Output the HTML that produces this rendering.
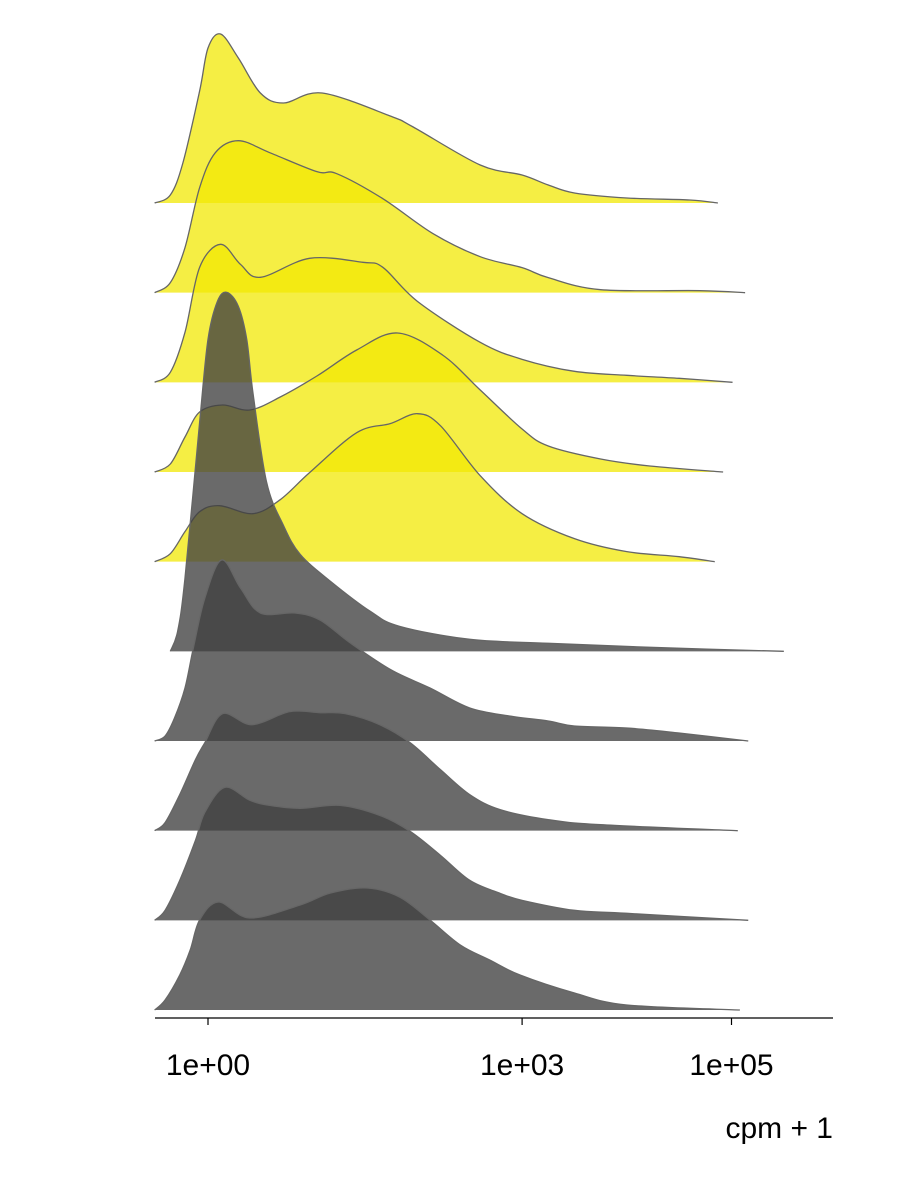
<!DOCTYPE html>
<html><head><meta charset="utf-8">
<style>
html,body{margin:0;padding:0;background:#fff;}
svg{display:block;font-family:"Liberation Sans",Arial,sans-serif;}
</style></head>
<body>
<svg id="chart" width="900" height="1188" viewBox="0 0 900 1188" xmlns="http://www.w3.org/2000/svg">
<g id="ridges"></g>
<g id="axis"></g>
<text x="833" y="1138" font-size="30" text-anchor="end" fill="#000">cpm + 1</text>
</svg>
<script>
// x positions are log10(cpm+1); heights are density values
const tickValues = [0, 3, 5];
const tickLabels = ["1e+00", "1e+03", "1e+05"];
const groups = ["yellow","yellow","yellow","yellow","yellow","gray","gray","gray","gray","gray"];
const r1x = [-0.51,-0.36,-0.24,-0.08,0,0.12,0.29,0.50,0.72,1.09,1.74,1.96,2.6,3.0,3.25,3.5,4.0,4.6,4.87];
const r1y = [0,0.08,0.40,1.12,1.55,1.69,1.45,1.10,1.00,1.10,0.87,0.76,0.38,0.28,0.18,0.10,0.05,0.03,0];
const r2x = [-0.51,-0.36,-0.22,-0.08,0.07,0.29,0.59,1.04,1.23,1.67,2.15,2.6,3.0,3.25,3.75,4.7,5.13];
const r2y = [0,0.10,0.45,1.05,1.40,1.52,1.40,1.21,1.19,0.94,0.59,0.36,0.25,0.15,0.03,0.02,0];
const r3x = [-0.51,-0.36,-0.22,-0.08,0.12,0.31,0.50,0.97,1.48,1.67,2.0,2.6,3.0,3.5,4.0,4.5,5.01];
const r3y = [0,0.10,0.50,1.15,1.38,1.18,1.05,1.24,1.20,1.15,0.81,0.40,0.23,0.11,0.07,0.04,0];
const r4x = [-0.51,-0.36,-0.22,-0.08,0.14,0.40,0.69,1.04,1.42,1.81,2.24,2.6,3.0,3.25,3.75,4.22,4.92];
const r4y = [0,0.08,0.35,0.60,0.67,0.62,0.75,0.96,1.22,1.39,1.17,0.82,0.43,0.26,0.13,0.06,0];
const r5x = [-0.51,-0.36,-0.22,-0.08,0.11,0.43,0.69,0.97,1.42,1.74,2.0,2.22,2.6,3.0,3.5,4.0,4.5,4.84];
const r5y = [0,0.08,0.30,0.50,0.56,0.48,0.62,0.89,1.29,1.38,1.48,1.36,0.86,0.48,0.23,0.10,0.05,0];
const r6x = [-0.36,-0.29,-0.22,-0.08,0,0.09,0.18,0.29,0.37,0.43,0.56,0.72,0.88,1.17,1.55,1.83,2.5,3.25,4.22,5.5];
const r6y = [0,0.20,0.73,2.29,3.12,3.50,3.59,3.45,3.12,2.58,1.69,1.26,0.97,0.70,0.40,0.25,0.12,0.08,0.04,0];
const r7x = [-0.51,-0.41,-0.32,-0.22,-0.14,-0.03,0.13,0.31,0.50,0.83,1.07,1.36,1.75,2.12,2.5,2.88,3.25,3.5,4.0,4.5,5.16];
const r7y = [0,0.05,0.23,0.53,0.93,1.43,1.81,1.53,1.28,1.28,1.21,0.98,0.71,0.53,0.33,0.25,0.20,0.15,0.13,0.08,0];
const r8x = [-0.51,-0.41,-0.27,-0.12,-0.03,0.14,0.42,0.78,1.07,1.31,1.64,1.93,2.22,2.5,2.79,3.25,3.75,5.06];
const r8y = [0,0.08,0.36,0.71,0.88,1.17,1.06,1.19,1.18,1.17,1.06,0.88,0.61,0.36,0.21,0.11,0.06,0];
const r9x = [-0.51,-0.41,-0.27,-0.12,-0.03,0.16,0.40,0.59,0.88,1.26,1.64,1.93,2.22,2.5,2.79,3.0,3.5,4.0,5.16];
const r9y = [0,0.10,0.40,0.80,1.08,1.33,1.20,1.15,1.12,1.15,1.05,0.89,0.65,0.40,0.27,0.20,0.10,0.07,0];
const r10x = [-0.51,-0.41,-0.27,-0.17,-0.08,0.10,0.40,0.88,1.17,1.52,1.83,2.12,2.41,2.69,2.98,3.5,4.0,5.08];
const r10y = [0,0.10,0.35,0.60,0.90,1.08,0.92,1.05,1.17,1.22,1.13,0.90,0.65,0.50,0.35,0.17,0.05,0];
const ridgeX = [r1x,r2x,r3x,r4x,r5x,r6x,r7x,r8x,r9x,r10x];
const ridgeY = [r1y,r2y,r3y,r4y,r5y,r6y,r7y,r8y,r9y,r10y];

const NS = "http://www.w3.org/2000/svg";
const xScale = v => 208 + v * 104.7;
const baseY = i => 203 + i * (807 / 9);
const hScale = d => d * 100;

function pathFrom(pts){
  let d = "M" + pts[0][0].toFixed(2) + "," + pts[0][1].toFixed(2);
  for (let i = 0; i < pts.length - 1; i++) {
    const p0 = pts[Math.max(0, i - 1)], p1 = pts[i], p2 = pts[i + 1], p3 = pts[Math.min(pts.length - 1, i + 2)];
    const c1 = [p1[0] + (p2[0] - p0[0]) / 6, p1[1] + (p2[1] - p0[1]) / 6];
    const c2 = [p2[0] - (p3[0] - p1[0]) / 6, p2[1] - (p3[1] - p1[1]) / 6];
    d += " C" + c1[0].toFixed(2) + "," + c1[1].toFixed(2) + " " + c2[0].toFixed(2) + "," + c2[1].toFixed(2) + " " + p2[0].toFixed(2) + "," + p2[1].toFixed(2);
  }
  return d;
}

const gR = document.getElementById("ridges");
for (let i = 0; i < ridgeX.length; i++) {
  const b = baseY(i);
  const pts = ridgeX[i].map((v, k) => [xScale(v), b - hScale(ridgeY[i][k])]);
  const line = pathFrom(pts);
  const fill = document.createElementNS(NS, "path");
  fill.setAttribute("d", line + " L" + pts[pts.length - 1][0].toFixed(2) + "," + b + " L" + pts[0][0].toFixed(2) + "," + b + " Z");
  fill.setAttribute("fill", groups[i] === "yellow" ? "rgba(241,232,3,0.74)" : "rgba(64,64,64,0.78)");
  
  
  gR.appendChild(fill);
  const ln = document.createElementNS(NS, "path");
  ln.setAttribute("d", line);
  ln.setAttribute("fill", "none");
  ln.setAttribute("stroke", "#666");
  ln.setAttribute("stroke-width", "1.3");
  
  
  gR.appendChild(ln);
}

const gA = document.getElementById("axis");
const axl = document.createElementNS(NS, "line");
axl.setAttribute("x1", 155); axl.setAttribute("x2", 833);
axl.setAttribute("y1", 1018); axl.setAttribute("y2", 1018);
axl.setAttribute("stroke", "#000"); axl.setAttribute("stroke-width", "1.2");


gA.appendChild(axl);
tickValues.forEach((v, i) => {
  const x = xScale(v);
  const t = document.createElementNS(NS, "line");
  t.setAttribute("x1", x); t.setAttribute("x2", x);
  t.setAttribute("y1", 1018); t.setAttribute("y2", 1025);
  t.setAttribute("stroke", "#000"); t.setAttribute("stroke-width", "1.2");
  
  
  gA.appendChild(t);
  const lb = document.createElementNS(NS, "text");
  lb.setAttribute("x", x); lb.setAttribute("y", 1075);
  lb.setAttribute("font-size", "30"); lb.setAttribute("text-anchor", "middle");
  lb.textContent = tickLabels[i];
  
  
  gA.appendChild(lb);
});
</script>
</body></html>
